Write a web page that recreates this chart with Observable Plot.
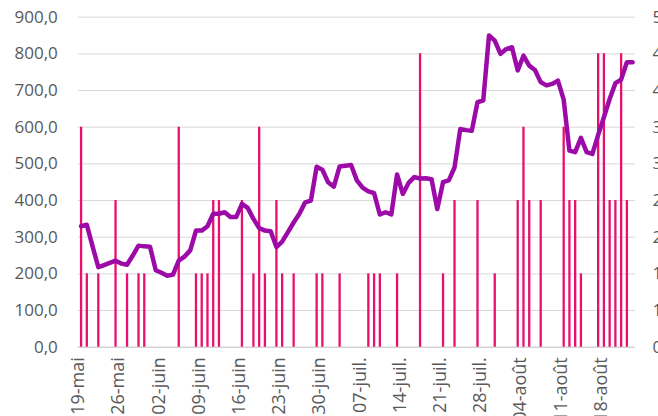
<!DOCTYPE html>
<html>
<head>
<meta charset="utf-8">
<script src="https://cdn.jsdelivr.net/npm/d3@7"></script>
<script src="https://cdn.jsdelivr.net/npm/@observablehq/plot@0.6"></script>
<style>
html, body { margin: 0; padding: 0; background: #fff; overflow: hidden; }
</style>
</head>
<body>
<div id="chart"></div>
<script>
// ---- Data ----
const startDate = "2019-05-19"; // first category (19-mai)
// daily line values, one per day from 19-mai to 23-août
const lineValues = [
  330,334,275,218,224,230,236,228,225,250,
  277,275,274,210,203,195,198,236,247,264,
  318,318,330,364,364,368,355,355,391,380,
  350,325,318,316,273,288,314,340,364,395,
  400,492,484,450,438,493,495,497,455,435,
  425,420,362,368,362,471,418,448,464,460,
  461,458,377,450,455,490,595,592,590,668,
  673,850,836,800,813,818,755,795,768,756,
  723,714,718,727,675,536,532,571,532,527,
  579,627,677,720,730,777,777
];
// column series: day index (from 19-mai) and value
const barDays = [0,1,3,6,8,10,11,17,20,21,22,23,24,28,30,31,32,34,35,37,41,42,45,50,51,52,55,59,63,65,69,72,76,77,78,80,84,85,86,87,90,91,92,93,94,95];
const barValues = [600,200,200,400,200,200,200,600,200,200,200,400,400,400,200,600,200,400,200,200,200,200,200,200,200,200,200,800,200,400,400,200,400,600,400,400,600,400,400,200,800,800,400,400,800,400];
// axes
const yTicks = [0,100,200,300,400,500,600,700,800,900];
const yTickLabels = ["0,0","100,0","200,0","300,0","400,0","500,0","600,0","700,0","800,0","900,0"];
const rightTickLabels = ["0","1","1","2","2","3","3","4","4","5"];
const xTickDays = [0,7,14,21,28,35,42,49,56,63,70,77,84,91];
const xTickLabels = ["19-mai","26-mai","02-juin","09-juin","16-juin","23-juin","30-juin","07-juil.","14-juil.","21-juil.","28-juil.","04-août","11-août","18-août"];

// ---- Build tables ----
const DAY = 864e5;
const t0 = new Date(startDate + "T00:00:00Z").getTime();
const dayDate = i => new Date(t0 + i * DAY);
const lineData = lineValues.map((v, i) => ({date: dayDate(i), value: v}));
const barData = barDays.map((d, i) => ({date: dayDate(d), value: barValues[i]}));
const xTicks = xTickDays.map((d, i) => ({date: dayDate(d), label: xTickLabels[i]}));
const yTickData = yTicks.map((v, i) => ({v, left: yTickLabels[i], right: rightTickLabels[i]}));

const textColor = "#595959";

const chart = Plot.plot({
  width: 658,
  height: 416,
  marginLeft: 77.7,
  marginRight: 23,
  marginTop: 16.7,
  marginBottom: 69.3,
  x: {type: "utc", domain: [dayDate(-0.5), dayDate(lineValues.length - 0.5)], axis: null},
  y: {domain: [0, 900], axis: null},
  style: {fontFamily: "'Open Sans', sans-serif", fontSize: "17px", color: textColor, background: "#fff", overflow: "visible"},
  marks: [
    Plot.ruleY(yTicks.filter(v => v > 0), {stroke: "#d9d9d9", strokeWidth: 1}),
    Plot.ruleY([0], {stroke: "#d3d3d3", strokeWidth: 1.4}),
    Plot.ruleX(barData, {x: "date", y1: 0, y2: "value", stroke: "#e8106c", strokeWidth: 2.3}),
    Plot.line(lineData, {x: "date", y: "value", stroke: "#9c0aa8", strokeWidth: 4.5, strokeLinejoin: "round", strokeLinecap: "round"}),
    Plot.text(yTickData, {y: "v", text: "left", frameAnchor: "left", textAnchor: "end", dx: -20.4, fill: textColor}),
    Plot.text(yTickData, {y: "v", text: "right", frameAnchor: "right", textAnchor: "start", dx: 17, fill: textColor}),
    Plot.text(xTicks, {x: "date", text: "label", frameAnchor: "bottom", rotate: -90, textAnchor: "end", dx: 3, dy: 10, fontSize: 18, fill: textColor})
  ]
});
document.getElementById("chart").appendChild(chart);
</script>
</body>
</html>
